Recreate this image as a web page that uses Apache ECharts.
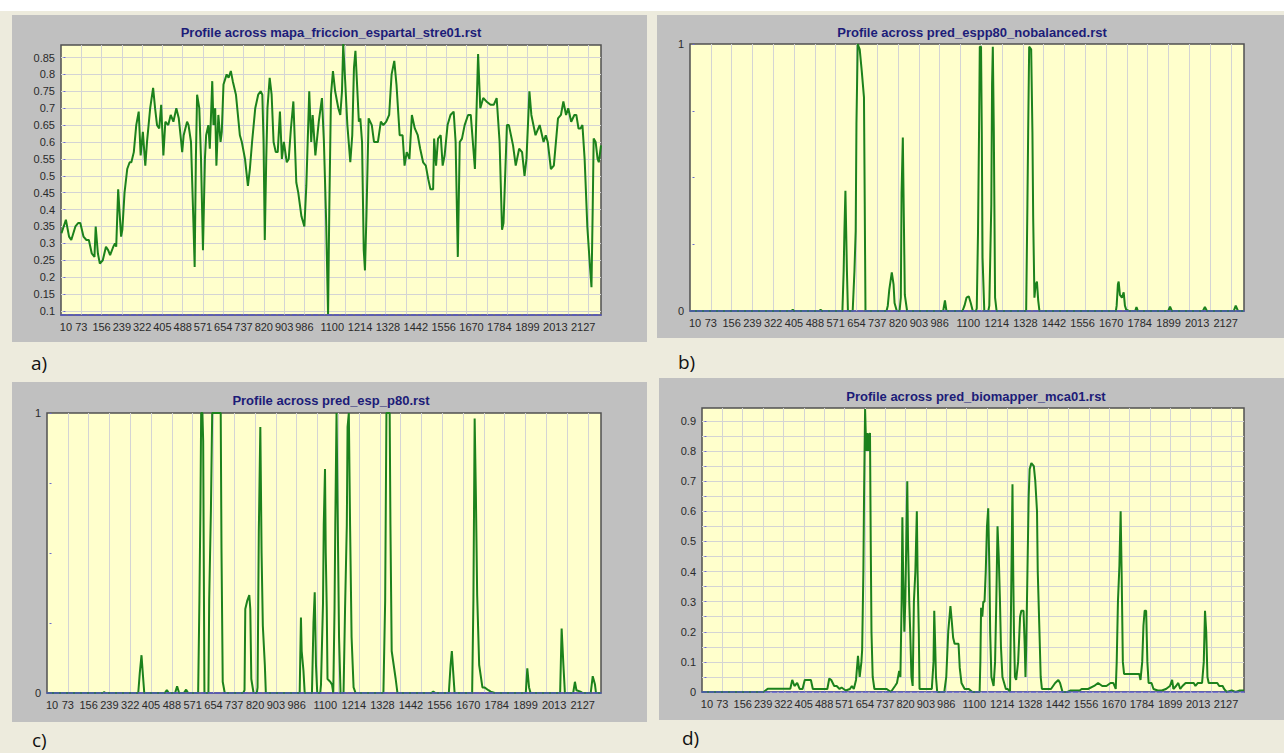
<!DOCTYPE html>
<html>
<head>
<meta charset="utf-8">
<script src="https://cdn.jsdelivr.net/npm/echarts@6/dist/echarts.min.js"></script>
<style>
html,body{margin:0;padding:0;background:#edebdd;}
#c{width:1284px;height:753px;}
</style>
</head>
<body>
<div id="c"></div>
<script>
// ---- data ----
const TITLES = [
  'Profile across mapa_friccion_espartal_stre01.rst',
  'Profile across pred_espp80_nobalanced.rst',
  'Profile across pred_esp_p80.rst',
  'Profile across pred_biomapper_mca01.rst'
];
const PANEL_LETTERS = ['a)', 'b)', 'c)', 'd)'];
const X_LABELS = [10,73,156,239,322,405,488,571,654,737,820,903,986,1100,1214,1328,1442,1556,1670,1784,1899,2013,2127];
const X_GRID = [73,156,239,322,405,488,571,654,737,820,903,986,1069,1152,1235,1318,1401,1484,1567,1650,1733,1816,1899,1982,2065,2148];
const A_TICKS = [0.1,0.15,0.2,0.25,0.3,0.35,0.4,0.45,0.5,0.55,0.6,0.65,0.7,0.75,0.8,0.85];
const BC_LABELS = [0,1];
const BC_TICKS = [0,0.25,0.5,0.75,1];
const D_LABELS = [0,0.1,0.2,0.3,0.4,0.5,0.6,0.7,0.8,0.9];
const D_GRID = [0,0.05,0.1,0.15,0.2,0.25,0.3,0.35,0.4,0.45,0.5,0.55,0.6,0.65,0.7,0.75,0.8,0.85,0.9];

const A_PROFILE = [[-8,0.33],[10,0.37],[23,0.32],[32,0.31],[49,0.35],[60,0.36],[69,0.36],[82,0.32],[94,0.31],[104,0.31],[116,0.27],[127,0.26],[132,0.35],[141,0.27],[149,0.24],[161,0.25],[174,0.29],[183,0.28],[191,0.265],[204,0.29],[211,0.3],[216,0.29],[224,0.46],[229,0.4],[236,0.32],[241,0.34],[250,0.45],[261,0.52],[271,0.54],[278,0.54],[288,0.57],[298,0.65],[308,0.69],[316,0.56],[325,0.63],[335,0.53],[342,0.6],[355,0.7],[367,0.76],[375,0.7],[383,0.65],[392,0.64],[400,0.71],[409,0.56],[417,0.66],[429,0.65],[439,0.68],[450,0.66],[462,0.7],[472,0.67],[482,0.6],[486,0.57],[492,0.62],[506,0.66],[512,0.65],[522,0.6],[532,0.36],[537,0.23],[542,0.55],[547,0.74],[556,0.7],[563,0.55],[571,0.28],[579,0.55],[584,0.62],[593,0.65],[599,0.58],[609,0.78],[614,0.65],[621,0.7],[626,0.53],[634,0.68],[643,0.6],[648,0.63],[655,0.77],[668,0.8],[676,0.79],[685,0.81],[693,0.78],[706,0.74],[722,0.62],[730,0.6],[743,0.55],[755,0.47],[763,0.52],[772,0.6],[785,0.7],[797,0.74],[807,0.75],[814,0.74],[819,0.6],[824,0.31],[830,0.55],[835,0.7],[844,0.79],[852,0.74],[860,0.6],[869,0.57],[877,0.57],[886,0.69],[894,0.55],[902,0.6],[914,0.54],[922,0.55],[931,0.64],[941,0.72],[953,0.48],[961,0.45],[974,0.38],[986,0.35],[994,0.47],[1006,0.75],[1014,0.6],[1020,0.68],[1031,0.56],[1045,0.66],[1058,0.73],[1066,0.6],[1075,0.37],[1083,0.09],[1088,0.4],[1095,0.74],[1103,0.81],[1112,0.75],[1125,0.7],[1133,0.68],[1140,0.75],[1145,0.89],[1153,0.78],[1162,0.65],[1174,0.54],[1182,0.62],[1189,0.82],[1195,0.87],[1209,0.66],[1215,0.67],[1222,0.6],[1229,0.28],[1234,0.22],[1240,0.38],[1249,0.67],[1262,0.65],[1271,0.6],[1287,0.6],[1299,0.66],[1309,0.65],[1321,0.66],[1333,0.68],[1343,0.8],[1354,0.84],[1363,0.77],[1376,0.62],[1388,0.62],[1396,0.53],[1405,0.57],[1416,0.55],[1426,0.68],[1438,0.64],[1450,0.62],[1460,0.58],[1472,0.54],[1483,0.53],[1493,0.49],[1502,0.46],[1513,0.46],[1517,0.61],[1525,0.53],[1533,0.61],[1544,0.62],[1552,0.53],[1560,0.56],[1572,0.65],[1584,0.68],[1597,0.69],[1605,0.6],[1614,0.26],[1622,0.6],[1631,0.61],[1642,0.65],[1656,0.68],[1667,0.68],[1684,0.52],[1697,0.86],[1706,0.7],[1718,0.73],[1731,0.72],[1748,0.71],[1761,0.71],[1773,0.73],[1785,0.6],[1795,0.34],[1801,0.36],[1815,0.65],[1823,0.65],[1840,0.59],[1851,0.53],[1865,0.58],[1877,0.57],[1887,0.5],[1895,0.55],[1907,0.75],[1915,0.68],[1932,0.62],[1949,0.65],[1965,0.6],[1974,0.62],[1982,0.6],[1995,0.52],[2007,0.53],[2024,0.67],[2036,0.68],[2046,0.72],[2057,0.68],[2066,0.7],[2078,0.66],[2091,0.68],[2099,0.68],[2108,0.64],[2116,0.64],[2124,0.65],[2133,0.55],[2144,0.35],[2155,0.23],[2161,0.17],[2166,0.4],[2170,0.61],[2178,0.6],[2186,0.55],[2191,0.54],[2200,0.59]];

const B_PROFILE = [[-10,0],[395,0],[400,0.005],[405,0],[505,0],[511,0.004],[517,0],[598,0],[603,0.15],[606,0.3],[610,0.45],[613,0.3],[616,0.15],[620,0],[639,0],[646,0.15],[651,0.3],[654,0.7],[659,1.0],[667,0.98],[675,0.9],[684,0.8],[687,0.41],[690,0],[774,0],[779,0.02],[785,0.08],[795,0.145],[802,0.1],[806,0.03],[815,0],[826,0],[831,0.05],[834,0.44],[839,0.65],[843,0.35],[847,0.06],[856,0],[1000,0],[1007,0.04],[1013,0],[1077,0],[1085,0.02],[1093,0.05],[1102,0.055],[1110,0.03],[1118,0],[1131,0],[1134,0.01],[1139,0.3],[1143,0.67],[1146,0.99],[1151,0.99],[1154,0.67],[1157,0.2],[1164,0],[1180,0],[1184,0.02],[1192,0.4],[1195,0.85],[1198,0.99],[1202,0.67],[1207,0.05],[1213,0],[1328,0],[1331,0],[1336,0.4],[1339,0.67],[1343,0.99],[1351,0.98],[1356,0.67],[1359,0.35],[1364,0.05],[1369,0.1],[1374,0.11],[1379,0.04],[1384,0],[1689,0],[1692,0.02],[1697,0.1],[1700,0.11],[1705,0.06],[1713,0.05],[1720,0.07],[1725,0.02],[1730,0.005],[1741,0],[1766,0],[1771,0.015],[1777,0],[1898,0],[1905,0.016],[1912,0],[2036,0],[2044,0.015],[2052,0],[2159,0],[2167,0.02],[2176,0],[2200,0]];

const C_PROFILE = [[-10,0],[213,0],[218,0.003],[223,0],[354,0],[360,0.07],[367,0.135],[373,0.06],[378,0],[460,0],[468,0.01],[476,0],[501,0],[509,0.024],[517,0],[536,0],[545,0.012],[553,0],[593,0],[598,0.33],[602,0.66],[605,1.0],[610,1.0],[613,0.9],[618,0],[634,0],[637,0.33],[644,0.66],[649,1.0],[667,1.0],[683,1.0],[686,0.52],[691,0.04],[699,0],[773,0],[778,0.01],[781,0.3],[789,0.33],[797,0.35],[801,0.3],[805,0.05],[814,0],[827,0],[830,0.02],[835,0.58],[841,0.95],[846,0.5],[851,0.24],[859,0.1],[863,0],[998,0],[1003,0.27],[1006,0.15],[1013,0.08],[1018,0],[1047,0],[1053,0.25],[1058,0.36],[1063,0.1],[1068,0],[1080,0],[1083,0.03],[1091,0.32],[1094,0.6],[1099,0.8],[1102,0.5],[1106,0.3],[1109,0.05],[1120,0.04],[1127,0.03],[1132,0],[1137,0.3],[1140,0.6],[1145,1.0],[1150,0.6],[1155,0.2],[1161,0],[1173,0],[1179,0.3],[1186,0.6],[1189,0.95],[1194,1.0],[1199,0.6],[1205,0.2],[1213,0.02],[1221,0],[1327,0],[1332,0],[1339,0.33],[1344,1.0],[1357,1.0],[1360,0.6],[1365,0.15],[1373,0.1],[1381,0.05],[1388,0],[1523,0],[1531,0.005],[1539,0],[1593,0],[1600,0.1],[1605,0.15],[1610,0.08],[1616,0],[1681,0],[1686,0],[1691,0.33],[1696,0.98],[1701,0.7],[1706,0.35],[1714,0.1],[1727,0.02],[1735,0.02],[1751,0.01],[1760,0.005],[1776,0],[1900,0],[1906,0.088],[1913,0.02],[1919,0],[2037,0],[2043,0.23],[2050,0.1],[2056,0],[2089,0],[2096,0.04],[2102,0.01],[2118,0.005],[2127,0],[2159,0],[2167,0.06],[2176,0.03],[2180,0],[2200,0]];

const D_PROFILE = [[-10,0],[241,0],[258,0.011],[350,0.011],[358,0.04],[367,0.02],[378,0.03],[388,0.01],[400,0.01],[409,0.04],[417,0.04],[434,0.04],[442,0.01],[475,0.01],[501,0.01],[509,0.045],[517,0.04],[529,0.02],[539,0.02],[551,0.01],[559,0.015],[576,0.005],[593,0.01],[601,0.02],[609,0.01],[618,0.04],[626,0.12],[633,0.05],[640,0.1],[643,0.14],[648,0.4],[651,0.67],[655,0.94],[658,0.85],[661,0.8],[665,0.86],[668,0.8],[671,0.85],[675,0.86],[678,0.5],[681,0.2],[686,0.05],[693,0.01],[710,0.01],[743,0.01],[760,0],[777,0.02],[785,0.03],[794,0.07],[799,0.05],[804,0.3],[807,0.58],[810,0.4],[815,0.2],[819,0.3],[824,0.55],[827,0.7],[830,0.5],[835,0.3],[839,0.2],[844,0.05],[849,0.02],[854,0.3],[860,0.4],[866,0.6],[869,0.4],[874,0.2],[877,0.01],[911,0.01],[927,0.01],[934,0.1],[937,0.27],[941,0.15],[944,0.05],[949,0],[978,0],[986,0.05],[994,0.2],[1003,0.285],[1008,0.24],[1014,0.18],[1020,0.16],[1036,0.16],[1041,0.08],[1048,0.03],[1061,0.01],[1078,0.01],[1092,0],[1122,0],[1125,0.1],[1128,0.28],[1133,0.25],[1137,0.3],[1142,0.3],[1147,0.4],[1152,0.55],[1157,0.61],[1162,0.4],[1165,0.2],[1170,0.05],[1179,0.02],[1185,0.1],[1190,0.3],[1195,0.55],[1200,0.45],[1205,0.3],[1209,0.15],[1215,0.05],[1229,0.01],[1237,0.01],[1246,0],[1251,0.35],[1256,0.69],[1259,0.4],[1262,0.2],[1266,0.05],[1271,0.04],[1279,0.1],[1287,0.25],[1292,0.27],[1301,0.27],[1306,0.15],[1309,0.05],[1312,0.15],[1317,0.4],[1322,0.65],[1326,0.74],[1333,0.76],[1343,0.75],[1349,0.7],[1356,0.6],[1359,0.4],[1366,0.2],[1371,0.05],[1376,0.01],[1396,0.01],[1413,0.01],[1430,0.03],[1443,0.04],[1450,0.03],[1460,0],[1480,0],[1493,0.005],[1513,0.005],[1530,0.005],[1538,0.01],[1564,0.01],[1589,0.02],[1605,0.03],[1622,0.02],[1639,0.02],[1656,0.03],[1667,0.03],[1677,0.01],[1681,0.1],[1686,0.3],[1692,0.42],[1697,0.6],[1701,0.4],[1706,0.1],[1711,0.06],[1723,0.06],[1748,0.06],[1773,0.06],[1778,0.04],[1785,0.1],[1790,0.22],[1795,0.27],[1801,0.27],[1806,0.1],[1811,0.03],[1823,0.03],[1831,0.01],[1848,0.005],[1865,0.005],[1882,0.01],[1898,0.02],[1907,0.04],[1912,0.01],[1923,0.02],[1932,0.03],[1940,0.01],[1949,0.02],[1962,0.03],[1982,0.03],[1995,0.03],[2002,0.02],[2012,0.03],[2029,0.03],[2036,0.1],[2041,0.27],[2046,0.2],[2051,0.05],[2056,0.03],[2074,0.03],[2091,0.03],[2099,0.02],[2113,0.02],[2119,0.01],[2129,0],[2150,0.005],[2166,0],[2183,0.005],[2200,0.005]];

// ---- layout ----
const PANELS = [
  {rect:[12,15,635,327], grid:[61,45,540,270], title:[331,32], letter:[31,363]},
  {rect:[657,15,627,323], grid:[690,44,554,267], title:[972,32], letter:[678,362]},
  {rect:[12,382,635,340], grid:[47,413,554,280], title:[331,400], letter:[32,740]},
  {rect:[659,378,625,342], grid:[702,408,542,284], title:[976,396], letter:[682,738]}
];
const Y_SPECS = [
  {min:0.088, max:0.887, labels:A_TICKS, ticks:A_TICKS, split:true},
  {min:0, max:1, labels:BC_LABELS, ticks:BC_TICKS, split:false},
  {min:0, max:1, labels:BC_LABELS, ticks:BC_TICKS, split:false},
  {min:0, max:0.943, labels:D_LABELS, ticks:D_GRID, split:true}
];
const SERIES = [A_PROFILE, B_PROFILE, C_PROFILE, D_PROFILE];

const LABEL_FONT = '"Liberation Sans", Arial, sans-serif';
const GREEN = '#1c821c';
const GRIDLINE = '#d4d4d4';
const plain = v => String(v);

const chart = echarts.init(document.getElementById('c'), null, {renderer:'svg', width:1284, height:753});

const grids = [], xAxes = [], yAxes = [], series = [], graphics = [];

graphics.push({type:'rect', shape:{x:0,y:0,width:1284,height:11}, style:{fill:'#ffffff'}, z:-10, silent:true});

PANELS.forEach((p, i) => {
  graphics.push({type:'rect', shape:{x:p.rect[0], y:p.rect[1], width:p.rect[2], height:p.rect[3]}, style:{fill:'#c0c0c0'}, z:-10, silent:true});
  graphics.push({type:'text', x:p.title[0], y:p.title[1], style:{text:TITLES[i], fill:'#1c1c78', font:'bold 13px ' + LABEL_FONT, textAlign:'center', textVerticalAlign:'middle'}, z:10});
  graphics.push({type:'text', x:p.letter[0], y:p.letter[1], style:{text:PANEL_LETTERS[i], fill:'#111111', font:'19px "Open Sans", "Noto Sans", sans-serif', textAlign:'left', textVerticalAlign:'middle'}, z:10});

  grids.push({left:p.grid[0], top:p.grid[1], width:p.grid[2], height:p.grid[3], show:true, backgroundColor:'#ffffcc', borderColor:'#505050', borderWidth:1.5, containLabel:false});

  // main x axis (labels + vertical grid)
  xAxes.push({
    type:'value', gridIndex:i, min:-10, max:2200, position:'bottom',
    axisLine:{show:false},
    axisTick:{show:false, customValues:X_GRID},
    splitLine:{show:true, lineStyle:{color:GRIDLINE, width:1}},
    axisLabel:{show:true, customValues:X_LABELS, formatter:plain, color:'#2a2a2a', fontSize:11, fontFamily:LABEL_FONT, margin:6, hideOverlap:false}
  });
  // baseline axis drawn above the profile
  xAxes.push({
    type:'value', gridIndex:i, min:-10, max:2200, position:'bottom', z:5,
    axisLine:{show:true, onZero:false, lineStyle:{color:'#5656c8', width:1.6, type:[5,2]}},
    axisTick:{show:false}, splitLine:{show:false}, axisLabel:{show:false}
  });
  const ys = Y_SPECS[i];
  yAxes.push({
    type:'value', gridIndex:i, min:ys.min, max:ys.max,
    axisLine:{show:false},
    axisTick:{show:true, customValues:ys.ticks, length:2, inside:true, lineStyle:{color:'#6a6ad0'}},
    splitLine:{show:ys.split, lineStyle:{color:GRIDLINE, width:1}},
    axisLabel:{show:true, customValues:ys.labels, formatter:plain, color:'#2a2a2a', fontSize:11, fontFamily:LABEL_FONT, margin:6}
  });
  series.push({
    type:'line', xAxisIndex:i*2, yAxisIndex:i, data:SERIES[i],
    showSymbol:false, symbol:'none', clip:true,
    lineStyle:{color:GREEN, width:2}, z:2
  });
});

chart.setOption({
  animation:false,
  backgroundColor:'#edebdd',
  graphic:{elements:graphics},
  grid:grids, xAxis:xAxes, yAxis:yAxes, series:series
});
</script>
</body>
</html>
